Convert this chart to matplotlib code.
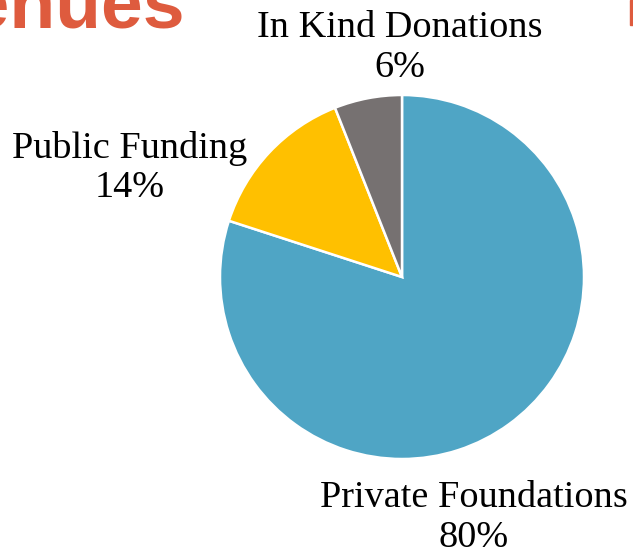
import matplotlib.pyplot as plt
from matplotlib.patches import Rectangle

# revenue breakdown (percent)
categories = ['Private Foundations', 'Public Funding', 'In Kind Donations']
shares = [80, 14, 6]
colors = ['#4FA5C5', '#FFC000', '#767171']

W, H = 633, 558
fig = plt.figure(figsize=(W / 100, H / 100), dpi=100)

# pie axes: centre (402, 277) px, radius 182 px
cx, cy, r = 402, 277, 182
ax = fig.add_axes([(cx - r) / W, (H - cy - r) / H, 2 * r / W, 2 * r / H])
ax.pie(shares, colors=colors, startangle=90, counterclock=False,
       wedgeprops=dict(edgecolor='white', linewidth=1.8))
ax.set_xlim(-1, 1)
ax.set_ylim(-1, 1)
ax.set_aspect('equal')
ax.axis('off')

# label centres in pixels (x, y of the block centre)
label_pos = [(474, 518), (130, 168), (400, 48)]
for name, val, (lx, ly) in zip(categories, shares, label_pos):
    fig.text(lx / W, 1 - ly / H, f'{name}\n{val}%', ha='center', va='center',
             multialignment='center', family='Liberation Serif', fontsize=27.5,
             linespacing=1.2, color='black')

# cropped slide title and accent bar
fig.text(185 / W, 1 - 27 / H, 'Revenues', ha='right', va='baseline',
         family='Liberation Sans', weight='bold', fontsize=54, color='#DE5B3E')
fig.patches.append(Rectangle((630 / W, 1 - 25 / H), 3 / W, 25 / H,
                             transform=fig.transFigure, color='#DE5B3E'))

fig.savefig('out.png', dpi=100)
